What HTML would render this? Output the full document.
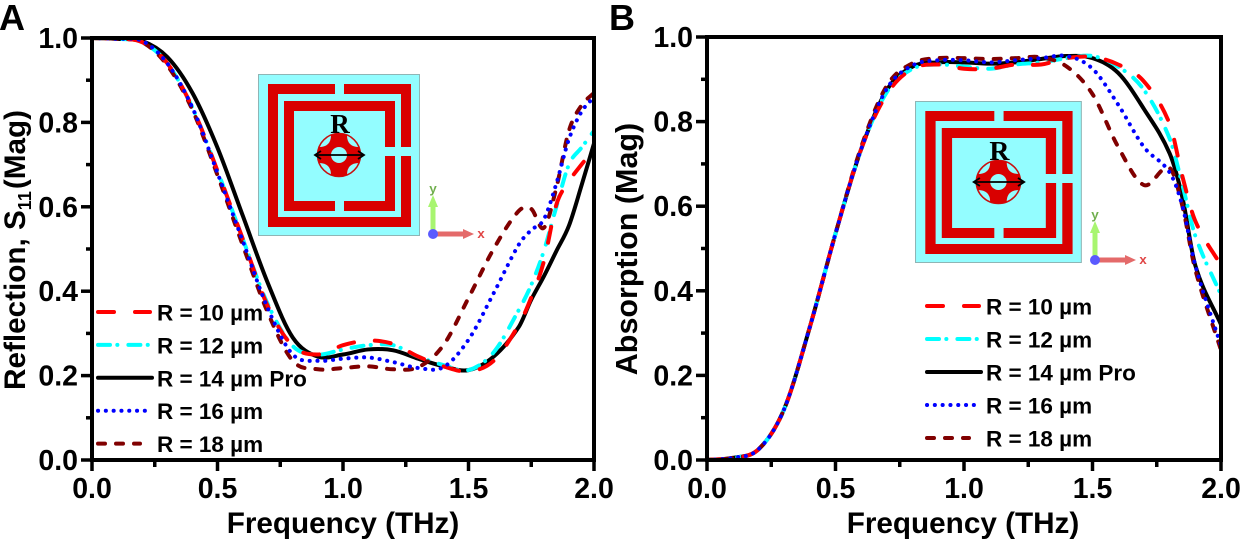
<!DOCTYPE html>
<html lang="en">
<head>
<meta charset="utf-8">
<title>Reflection and Absorption Spectra</title>
<style>
html,body{margin:0;padding:0;background:#fff;}
svg{display:block;}
text{font-family:"Liberation Sans",sans-serif;font-weight:bold;fill:#000;}
</style>
</head>
<body>
<svg id="fig" width="1241" height="541" viewBox="0 0 1241 541" xmlns="http://www.w3.org/2000/svg">
  <defs>
    <clipPath id="clipA"><rect x="92" y="38" width="502" height="422"/></clipPath>
    <clipPath id="clipB"><rect x="707" y="37" width="514" height="423"/></clipPath>
  </defs>
  <text x="-1" y="30" font-size="36">A</text>
  <text x="609" y="30" font-size="36">B</text>

  <g transform="translate(258,74)">
    <rect x="0.5" y="0.5" width="161" height="161" fill="#93fdff" stroke="#8fb5b5" stroke-width="1"/>
    <g fill="none" stroke="#d90000" stroke-width="10" stroke-miterlimit="10">
      <path d="M77 15H15V148H148V82M86 15H148V73"/>
      <path d="M132 73V32H31V132H77M86 132H132V82"/>
    </g>
    <circle cx="81" cy="81" r="21.5" fill="#93fdff" stroke="#c81010" stroke-width="1.5"/>
    <path d="M73 61Q81 58 89 61Q89 73 101 73Q104 81 101 89Q89 89 89 101Q81 104 73 101Q73 89 61 89Q58 81 61 73Q73 73 73 61Z" fill="#d90000"/>
    <circle cx="81" cy="81" r="8" fill="#93fdff"/>
    <path d="M58 81H105M63 77L57 81L63 85M100 77L106 81L100 85" fill="none" stroke="#000" stroke-width="1.8"/>
    <text x="82" y="59" font-size="27" text-anchor="middle" style="font-family:'Liberation Serif',serif">R</text>
  </g>
  <g transform="translate(433,234)">
    <path d="M0 0V-28" stroke="#a8f570" stroke-width="5"/><path d="M-5 -27L0 -39L5 -27Z" fill="#a8f570"/>
    <path d="M0 0H32" stroke="#e46a6a" stroke-width="5"/><path d="M30 -5L41 0L30 5Z" fill="#e46a6a"/>
    <circle r="5" fill="#5a5aff"/>
    <text x="0" y="-41" font-size="13" text-anchor="middle" style="font-family:'Liberation Mono',monospace;fill:#6fae4c">y</text>
    <text x="48" y="4" font-size="13" text-anchor="middle" style="font-family:'Liberation Mono',monospace;fill:#e04444">x</text>
  </g>

  <g transform="translate(915,101) scale(1.03,1)">
    <rect x="0.5" y="0.5" width="161" height="161" fill="#93fdff" stroke="#8fb5b5" stroke-width="1"/>
    <g fill="none" stroke="#d90000" stroke-width="10" stroke-miterlimit="10">
      <path d="M77 15H15V148H148V82M86 15H148V73"/>
      <path d="M132 73V32H31V132H77M86 132H132V82"/>
    </g>
    <circle cx="81" cy="81" r="21.5" fill="#93fdff" stroke="#c81010" stroke-width="1.5"/>
    <path d="M73 61Q81 58 89 61Q89 73 101 73Q104 81 101 89Q89 89 89 101Q81 104 73 101Q73 89 61 89Q58 81 61 73Q73 73 73 61Z" fill="#d90000"/>
    <circle cx="81" cy="81" r="8" fill="#93fdff"/>
    <path d="M58 81H105M63 77L57 81L63 85M100 77L106 81L100 85" fill="none" stroke="#000" stroke-width="1.8"/>
    <text x="82" y="59" font-size="27" text-anchor="middle" style="font-family:'Liberation Serif',serif">R</text>
  </g>
  <g transform="translate(1095,260)">
    <path d="M0 0V-28" stroke="#a8f570" stroke-width="5"/><path d="M-5 -27L0 -39L5 -27Z" fill="#a8f570"/>
    <path d="M0 0H32" stroke="#e46a6a" stroke-width="5"/><path d="M30 -5L41 0L30 5Z" fill="#e46a6a"/>
    <circle r="5" fill="#5a5aff"/>
    <text x="0" y="-41" font-size="13" text-anchor="middle" style="font-family:'Liberation Mono',monospace;fill:#6fae4c">y</text>
    <text x="48" y="4" font-size="13" text-anchor="middle" style="font-family:'Liberation Mono',monospace;fill:#e04444">x</text>
  </g>

  <text x="343" y="533" font-size="29.7" text-anchor="middle">Frequency (THz)</text>
  <text x="963" y="533" font-size="29.7" text-anchor="middle">Frequency (THz)</text>
  <text transform="translate(25,250) rotate(-90)" font-size="29.7" text-anchor="middle">Reflection, S<tspan font-size="18" dy="6">11</tspan><tspan dy="-6" dx="2">(Mag)</tspan></text>
  <text transform="translate(637,249) rotate(-90)" font-size="30.5" text-anchor="middle">Absorption (Mag)</text>
  <g id="plots"></g>
</svg>
<script>
// Shared axis tick values
const xTickLabels = ["0.0", "0.5", "1.0", "1.5", "2.0"];
const yTickLabels = ["0.0", "0.2", "0.4", "0.6", "0.8", "1.0"];

// Panel A: reflection S11 vs frequency (THz)
const freqA = [0,0.1,0.2,0.3,0.4,0.5,0.6,0.7,0.8,0.9,1.0,1.1,1.2,1.3,1.4,1.5,1.6,1.7,1.75,1.8,1.85,1.9,1.95,2.0];
const reflection10 = [1,0.998,0.99,0.94,0.835,0.685,0.525,0.365,0.27,0.25,0.272,0.283,0.275,0.245,0.222,0.21,0.235,0.32,0.385,0.47,0.605,0.66,0.70,0.735];
const reflection12 = [1,0.998,0.99,0.94,0.835,0.685,0.525,0.37,0.27,0.25,0.262,0.272,0.272,0.245,0.225,0.213,0.255,0.355,0.415,0.495,0.60,0.70,0.74,0.78];
const reflection14 = [1,0.998,0.993,0.955,0.87,0.74,0.58,0.42,0.29,0.245,0.25,0.262,0.26,0.24,0.222,0.213,0.245,0.315,0.38,0.435,0.495,0.555,0.65,0.75];
const reflection16 = [1,0.998,0.993,0.94,0.835,0.68,0.52,0.36,0.25,0.235,0.24,0.243,0.232,0.218,0.22,0.285,0.395,0.51,0.545,0.57,0.655,0.76,0.825,0.86];
const reflection18 = [1,0.998,0.99,0.935,0.83,0.675,0.51,0.35,0.235,0.215,0.218,0.222,0.215,0.22,0.272,0.384,0.50,0.59,0.595,0.55,0.645,0.78,0.84,0.87];

// Panel B: absorption vs frequency (THz)
const freqB = [0,0.1,0.2,0.3,0.4,0.5,0.6,0.7,0.8,0.9,1.0,1.1,1.2,1.3,1.4,1.5,1.6,1.7,1.8,1.85,1.9,2.0];
const absorption10 = [0,0.005,0.025,0.12,0.314,0.535,0.735,0.865,0.925,0.935,0.925,0.925,0.935,0.935,0.95,0.953,0.935,0.895,0.795,0.67,0.565,0.46];
const absorption12 = [0,0.005,0.025,0.12,0.314,0.535,0.735,0.87,0.925,0.935,0.93,0.925,0.935,0.94,0.95,0.955,0.93,0.875,0.76,0.65,0.53,0.39];
const absorption14 = [0,0.005,0.025,0.12,0.314,0.535,0.735,0.875,0.93,0.94,0.94,0.937,0.94,0.948,0.955,0.95,0.915,0.83,0.725,0.62,0.46,0.32];
const absorption16 = [0,0.005,0.025,0.12,0.314,0.535,0.735,0.878,0.933,0.945,0.945,0.94,0.945,0.95,0.955,0.925,0.84,0.74,0.68,0.6,0.46,0.27];
const absorption18 = [0,0.005,0.025,0.12,0.314,0.535,0.74,0.885,0.938,0.95,0.95,0.948,0.95,0.952,0.93,0.865,0.74,0.65,0.69,0.6,0.45,0.26];

// Legend labels
const legendLabels = ["R = 10 \u00B5m", "R = 12 \u00B5m", "R = 14 \u00B5m Pro", "R = 16 \u00B5m", "R = 18 \u00B5m"];

const NS = "http://www.w3.org/2000/svg";
const plots = document.getElementById("plots");

const seriesStyles = [
  {color:"#ff0000", dash:"16 21", name:"r-10", legendLen:52},
  {color:"#00ffff", dash:"12 7.3 0.1 11", name:"r-12", legendLen:52},
  {color:"#000000", dash:"", name:"r-14", legendLen:54},
  {color:"#0000ff", dash:"0.1 7.7", name:"r-16", legendLen:47},
  {color:"#800000", dash:"7 11", name:"r-18", legendLen:42}
];
const drawOrder = [2, 1, 4, 0, 3];

function make(tag, attrs, parent) {
  const el = document.createElementNS(NS, tag);
  for (const k in attrs) el.setAttribute(k, attrs[k]);
  parent.appendChild(el);
  return el;
}

function smoothPath(xs, ys) {
  let d = "M" + xs[0].toFixed(2) + " " + ys[0].toFixed(2);
  const n = xs.length;
  for (let i = 0; i < n - 1; i++) {
    const i0 = Math.max(i - 1, 0), i3 = Math.min(i + 2, n - 1);
    const dx = xs[i + 1] - xs[i];
    const m1 = (ys[i + 1] - ys[i0]) / (xs[i + 1] - xs[i0]);
    const m2 = (ys[i3] - ys[i]) / (xs[i3] - xs[i]);
    d += "C" + (xs[i] + dx / 3).toFixed(2) + " " + (ys[i] + m1 * dx / 3).toFixed(2) + " " +
         (xs[i + 1] - dx / 3).toFixed(2) + " " + (ys[i + 1] - m2 * dx / 3).toFixed(2) + " " +
         xs[i + 1].toFixed(2) + " " + ys[i + 1].toFixed(2);
  }
  return d;
}

function drawPanel(cfg) {
  const sx = f => cfg.x0 + (f / 2) * (cfg.x1 - cfg.x0);
  const sy = v => cfg.y0 + v * (cfg.y1 - cfg.y0);
  const g = make("g", {}, plots);
  
  

  // series
  const marks = make("g", {"clip-path": "url(#clip" + cfg.id + ")"}, g);
  drawOrder.forEach(i => {
    const vals = cfg.series[i];
    const st = seriesStyles[i];
    const p = make("path", {
      d: smoothPath(cfg.freq.map(sx), vals.map(sy)),
      fill: "none", stroke: st.color, "stroke-width": 4,
      "stroke-linecap": st.dash ? "round" : "butt", "stroke-linejoin": "round"
    }, marks);
    if (st.dash) p.setAttribute("stroke-dasharray", st.dash);
    
    
  });

  // frame
  const frame = make("rect", {x: cfg.x0, y: cfg.y1, width: cfg.x1 - cfg.x0, height: cfg.y0 - cfg.y1, fill: "none", stroke: "#000", "stroke-width": 4}, g);
  
  

  // x ticks
  xTickLabels.forEach((lab, i) => {
    const v = parseFloat(lab), x = sx(v);
    const t = make("line", {x1: x, x2: x, y1: cfg.y0, y2: cfg.y0 + 11, stroke: "#000", "stroke-width": 3.5}, g);
    
    
    const tx = make("text", {x: x, y: cfg.y0 + 38, "font-size": 28.5, "text-anchor": "middle"}, g);
    tx.textContent = lab;
    
    
    if (i < xTickLabels.length - 1) {
      const xm = sx(v + 0.25);
      const m = make("line", {x1: xm, x2: xm, y1: cfg.y0, y2: cfg.y0 + 7, stroke: "#000", "stroke-width": 3.5}, g);
      
      
    }
  });

  // y ticks
  yTickLabels.forEach((lab, i) => {
    const v = parseFloat(lab), y = sy(v);
    const t = make("line", {x1: cfg.x0 - 11, x2: cfg.x0, y1: y, y2: y, stroke: "#000", "stroke-width": 3.5}, g);
    
    
    const tx = make("text", {x: cfg.x0 - 14, y: y + 10, "font-size": 28.5, "text-anchor": "end"}, g);
    tx.textContent = lab;
    
    
    if (i < yTickLabels.length - 1) {
      const ym = sy(v + 0.1);
      const m = make("line", {x1: cfg.x0 - 6, x2: cfg.x0, y1: ym, y2: ym, stroke: "#000", "stroke-width": 3.5}, g);
      
      
    }
  });

  // legend
  const lg = make("g", {}, g);
  
  
  legendLabels.forEach((lab, i) => {
    const st = seriesStyles[i];
    const y = cfg.legY + i * cfg.legStep;
    const l = make("line", {x1: cfg.legX + 2, x2: cfg.legX + 2 + st.legendLen, y1: y, y2: y, stroke: st.color, "stroke-width": 4, "stroke-linecap": "round"}, lg);
    if (st.dash) l.setAttribute("stroke-dasharray", st.dash);
    
    
    const tx = make("text", {x: cfg.legX + 61, y: y + 8.5, "font-size": 22.5}, lg);
    tx.textContent = lab;
    
    
  });
}

drawPanel({id:"A", x0:92, x1:594, y0:460, y1:38, freq:freqA,
  series:[reflection10, reflection12, reflection14, reflection16, reflection18],
  legX:96, legY:312, legStep:32.9});
drawPanel({id:"B", x0:707, x1:1221, y0:460, y1:37, freq:freqB,
  series:[absorption10, absorption12, absorption14, absorption16, absorption18],
  legX:925, legY:306, legStep:33});
</script>
</body>
</html>
